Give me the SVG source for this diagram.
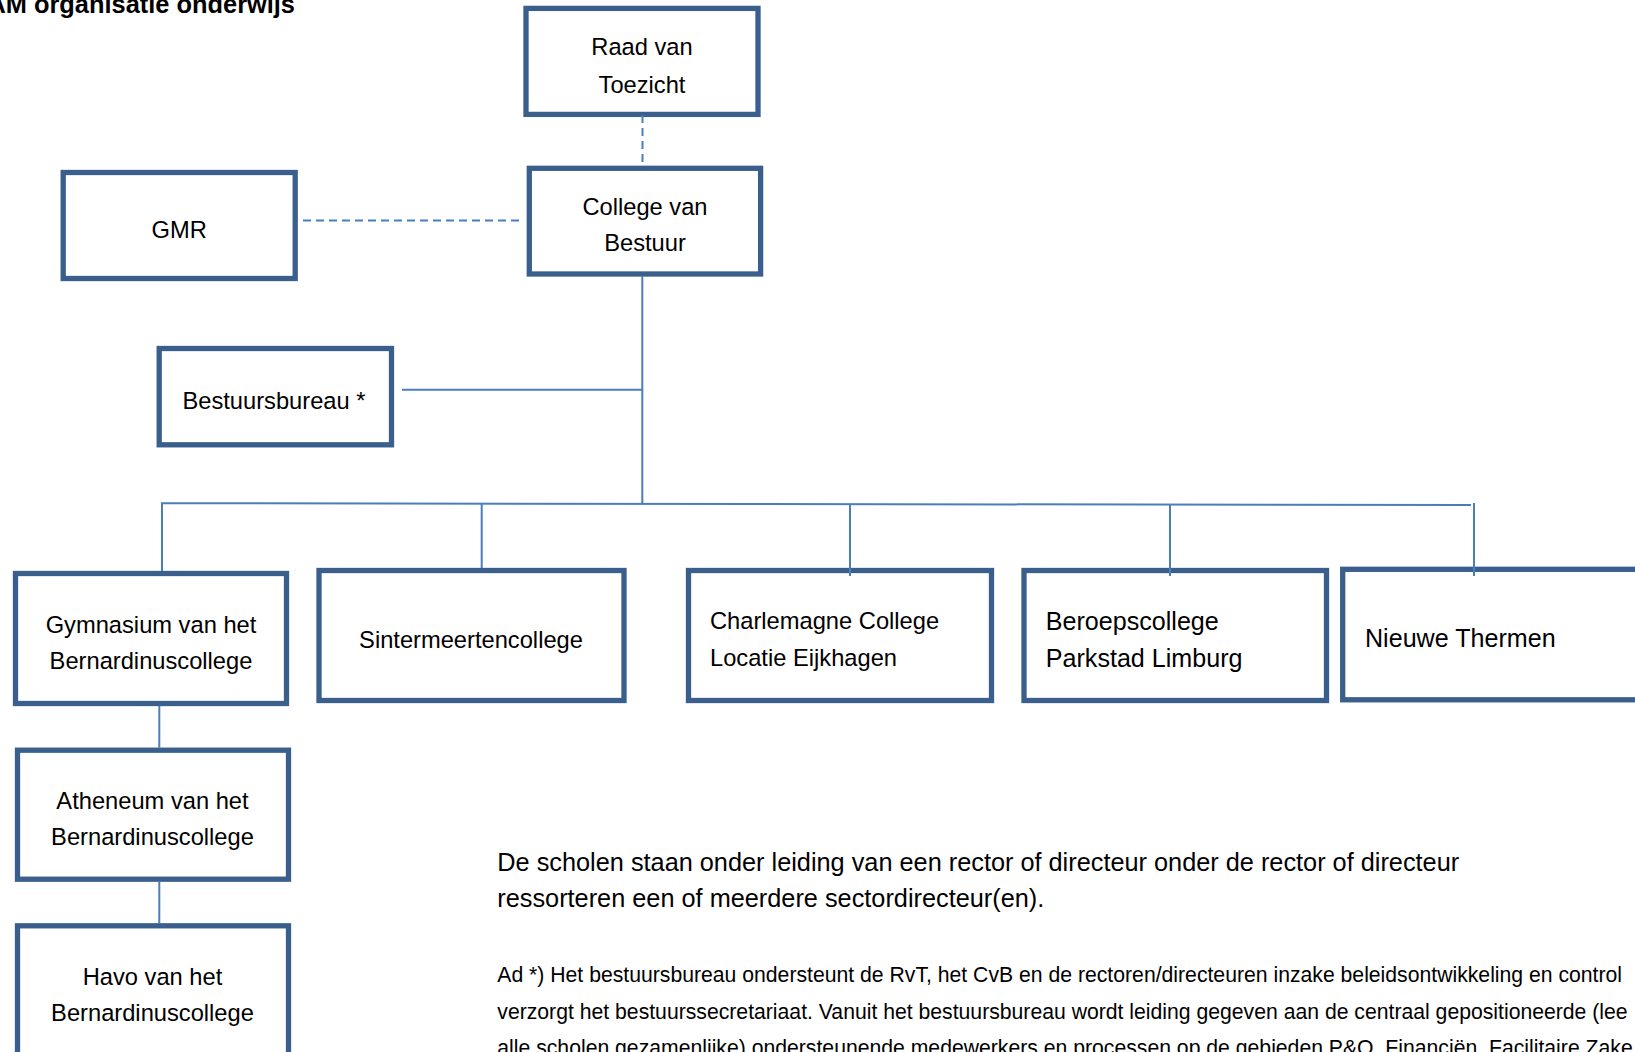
<svg xmlns="http://www.w3.org/2000/svg" width="1635" height="1052" viewBox="0 0 1635 1052">
<style>
.box{fill:#fff;stroke:#3a5f8c;stroke-width:5.3}
.t{font-family:"Liberation Sans",Arial,sans-serif;font-size:23.7px;fill:#000}
.c{text-anchor:middle}
.big{font-size:25.1px}
.conn{fill:none;stroke:#4a7ebb;stroke-width:2}
.dash{stroke-dasharray:8 5}
.title{font-family:"Liberation Sans",Arial,sans-serif;font-size:25.4px;font-weight:bold;fill:#000;text-anchor:end}
.p1{font-family:"Liberation Sans",Arial,sans-serif;font-size:25.3px;fill:#000}
.p2{font-family:"Liberation Sans",Arial,sans-serif;font-size:21.2px;fill:#000}
</style>
<rect width="1635" height="1052" fill="#fff"/>
<text class="title" x="295" y="13">AM organisatie onderwijs</text>

<g id="raad"><rect class="box" x="526" y="8.4" width="232" height="106"/>
<text class="t c" x="642" y="55">Raad van</text><text class="t c" x="642" y="92.5">Toezicht</text></g>
<g id="cvb"><rect class="box" x="529.3" y="168.3" width="231.3" height="105.7"/>
<text class="t c" x="645" y="214.5">College van</text><text class="t c" x="645" y="251.2">Bestuur</text></g>
<g id="gmr"><rect class="box" x="63.2" y="172.5" width="232" height="106"/>
<text class="t c" x="179.2" y="238.3">GMR</text></g>
<g id="bestuursbureau"><rect class="box" x="159.2" y="348.5" width="232.3" height="96.3"/>
<text class="t c" x="274" y="408.5">Bestuursbureau *</text></g>
<g id="gymnasium"><rect class="box" x="15.5" y="573.5" width="271" height="130"/>
<text class="t c" x="151" y="633.3">Gymnasium van het</text><text class="t c" x="151" y="669.3">Bernardinuscollege</text></g>
<g id="sintermeerten"><rect class="box" x="319" y="570.5" width="305" height="130"/>
<text class="t c" x="471" y="648">Sintermeertencollege</text></g>
<g id="charlemagne"><rect class="box" x="688.5" y="570.5" width="303" height="130"/>
<text class="t" x="710" y="629.3">Charlemagne College</text><text class="t" x="710" y="666.3">Locatie Eijkhagen</text></g>
<g id="beroepscollege"><rect class="box" x="1024" y="570.5" width="302.5" height="130"/>
<text class="t big" x="1045.8" y="629.5">Beroepscollege</text><text class="t big" x="1045.8" y="666.8">Parkstad Limburg</text></g>
<g id="nieuwe-thermen"><rect class="box" x="1342.7" y="569.3" width="400" height="130.5"/>
<text class="t big" x="1365" y="647.3">Nieuwe Thermen</text></g>
<g id="atheneum"><rect class="box" x="17.5" y="750.2" width="271" height="129"/>
<text class="t c" x="152.5" y="809">Atheneum van het</text><text class="t c" x="152.5" y="845.3">Bernardinuscollege</text></g>
<g id="havo"><rect class="box" x="17.5" y="925.8" width="271" height="150"/>
<text class="t c" x="152.5" y="984.8">Havo van het</text><text class="t c" x="152.5" y="1021.3">Bernardinuscollege</text></g>

<g id="connectors">
<line class="conn dash" x1="642.5" y1="115" x2="642.5" y2="164"/>
<line class="conn dash" x1="303" y1="220.5" x2="520" y2="220.5"/>
<line class="conn" x1="642.3" y1="276" x2="642.3" y2="503"/>
<line class="conn" x1="402" y1="389.8" x2="642.3" y2="389.8"/>
<polyline class="conn" points="162,571 162,503.2 1471,505"/>
<line class="conn" x1="481.7" y1="503.6" x2="481.7" y2="568"/>
<line class="conn" x1="850" y1="504.2" x2="850" y2="576"/>
<line class="conn" x1="1170" y1="504.5" x2="1170" y2="576"/>
<line class="conn" x1="1474" y1="503" x2="1474" y2="576"/>
<line class="conn" x1="159.3" y1="706" x2="159.3" y2="747.7"/>
<line class="conn" x1="159.3" y1="881.7" x2="159.3" y2="923"/>
</g>

<text class="p1" x="497.3" y="870.5">De scholen staan onder leiding van een rector of directeur onder de rector of directeur</text>
<text class="p1" x="497.3" y="907.3">ressorteren een of meerdere sectordirecteur(en).</text>
<text class="p2" x="497.3" y="981.8">Ad *) Het bestuursbureau ondersteunt de RvT, het CvB en de rectoren/directeuren inzake beleidsontwikkeling en control</text>
<text class="p2" x="497.3" y="1018.5">verzorgt het bestuurssecretariaat. Vanuit het bestuursbureau wordt leiding gegeven aan de centraal gepositioneerde (lee</text>
<text class="p2" x="497.3" y="1055.3">alle scholen gezamenlijke) ondersteunende medewerkers en processen op de gebieden P&amp;O, Financiën, Facilitaire Zake</text>
</svg>
